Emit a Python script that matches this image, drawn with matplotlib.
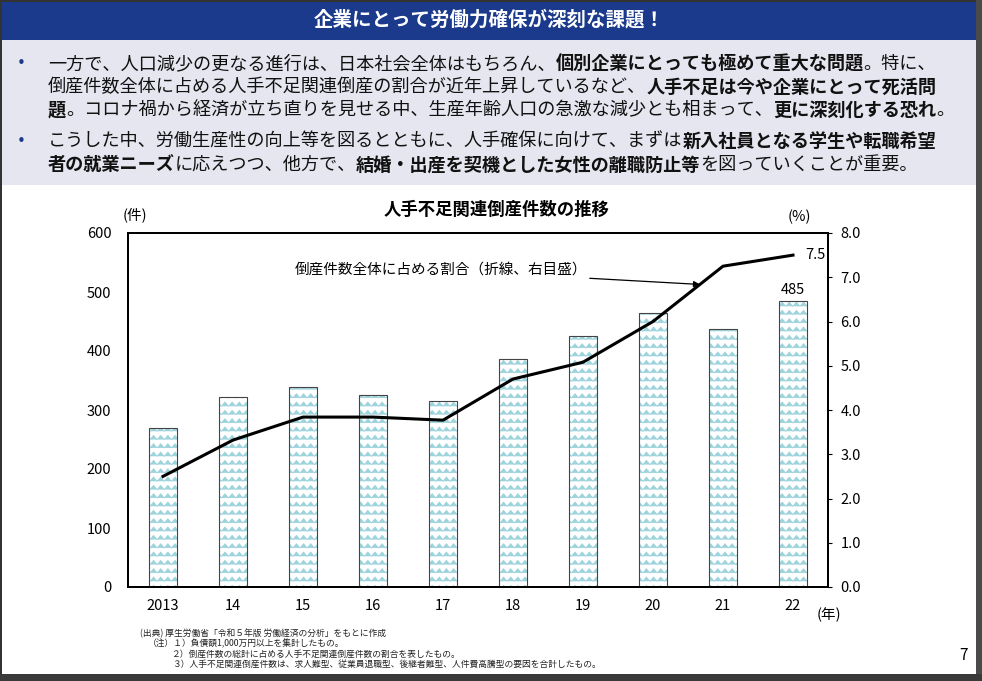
import warnings

import matplotlib
matplotlib.use('Agg')
import matplotlib.hatch as mhatch
import matplotlib.pyplot as plt
import numpy as np
from matplotlib.patches import Rectangle
from matplotlib.path import Path

warnings.filterwarnings('ignore')

plt.rcParams['font.family'] = ['Noto Sans CJK JP', 'DejaVu Sans']

# data
years = ['2013', '14', '15', '16', '17', '18', '19', '20', '21', '22']
bankruptcies = [270, 322, 339, 325, 315, 386, 425, 464, 437, 485]
share = [2.5, 3.32, 3.84, 3.84, 3.77, 4.7, 5.08, 6.0, 7.25, 7.5]
left_ticks = [0, 100, 200, 300, 400, 500, 600]
right_ticks = [0, 1, 2, 3, 4, 5, 6, 7, 8]

header = '企業にとって労働力確保が深刻な課題！'
bullet_lines = [
    [('一方で、人口減少の更なる進行は、日本社会全体はもちろん、', False),
     ('個別企業にとっても極めて重大な問題', True), ('。特に、', False)],
    [('倒産件数全体に占める人手不足関連倒産の割合が近年上昇しているなど、', False),
     ('人手不足は今や企業にとって死活問', True)],
    [('題', True),
     ('。コロナ禍から経済が立ち直りを見せる中、生産年齢人口の急激な減少とも相まって、', False),
     ('更に深刻化する恐れ', True), ('。', False)],
    [('こうした中、労働生産性の向上等を図るとともに、人手確保に向けて、まずは', False),
     ('新入社員となる学生や転職希望', True)],
    [('者の就業ニーズ', True), ('に応えつつ、他方で、', False),
     ('結婚・出産を契機とした女性の離職防止等', True),
     ('を図っていくことが重要。', False)],
]
chart_title = '人手不足関連倒産件数の推移'
line_label = '倒産件数全体に占める割合（折線、右目盛）'
notes = [
    '(出典) 厚生労働省「令和５年版 労働経済の分析」をもとに作成',
    '（注）１）負債額1,000万円以上を集計したもの。',
    '２）倒産件数の総計に占める人手不足関連倒産件数の割合を表したもの。',
    '３）人手不足関連倒産件数は、求人難型、従業員退職型、後継者難型、人件費高騰型の要因を合計したもの。',
]

W, H = 982, 681
NAVY = '#1b3a8c'
LAVENDER = '#e6e6f0'
HATCH_BLUE = '#9dd3dc'


class WaveHatch(mhatch.HatchPatternBase):
    """Zigzag rows, used with the 'w' hatch character."""
    periods = 14

    def __init__(self, hatch, density):
        self.num_lines = int(hatch.count('w') * density)
        self.num_vertices = self.num_lines * (2 * self.periods + 1)

    def set_vertices_and_codes(self, vertices, codes):
        n = 2 * self.periods + 1
        xs = np.linspace(0, 1, n)
        amp = 0.5 / max(self.num_lines, 1)
        offs = np.where(np.arange(n) % 2 == 0, 0.0, amp)
        rows = (np.arange(self.num_lines) + 0.25) / max(self.num_lines, 1)
        for i, r in enumerate(rows):
            sl = slice(i * n, (i + 1) * n)
            vertices[sl, 0] = xs
            vertices[sl, 1] = r + offs
            codes[sl] = Path.LINETO
            codes[i * n] = Path.MOVETO


mhatch._hatch_types.append(WaveHatch)
plt.rcParams['hatch.linewidth'] = 0.6


def fx(x):
    return x / W


def fy(y):
    return 1 - y / H


def add_rect(fig, x0, y0, x1, y1, color):
    fig.add_artist(Rectangle((fx(x0), fy(y1)), (x1 - x0) / W, (y1 - y0) / H,
                             transform=fig.transFigure, facecolor=color,
                             edgecolor='none', zorder=0))


def rich_line(fig, renderer, x, y, parts, size):
    for text, bold in parts:
        t = fig.text(fx(x), fy(y), text, fontsize=size,
                     fontweight='bold' if bold else 'normal',
                     color='#111111', ha='left', va='center')
        x = t.get_window_extent(renderer).x1


fig = plt.figure(figsize=(W / 100, H / 100), dpi=100)
renderer = fig.canvas.get_renderer()

# page frame and header
add_rect(fig, 0, 0, W, 2, '#333333')
add_rect(fig, 0, 0, 1.5, H, '#333333')
add_rect(fig, 976, 0, W, H, '#4a4a4a')
add_rect(fig, 0, 674, W, H, '#3a3a3a')
add_rect(fig, 1.5, 2, 976, 40, NAVY)
add_rect(fig, 1.5, 40, 976, 185, LAVENDER)
fig.text(fx(489), fy(20), header, fontsize=14, fontweight='bold',
         color='white', ha='center', va='center')

line_y = [64, 87, 110, 142, 165]
for y, parts in zip(line_y, bullet_lines):
    rich_line(fig, renderer, 48, y, parts, 13.1)
for y in (line_y[0], line_y[3]):
    fig.text(fx(21), fy(y), '•', fontsize=11, color=NAVY,
             ha='center', va='center', family='DejaVu Sans')

# chart
ax = fig.add_axes([fx(128), fy(587), 700 / W, 354 / H])
xpos = np.arange(len(years))
ax.bar(xpos, bankruptcies, width=0.4, color='white', edgecolor=HATCH_BLUE,
       linewidth=0, hatch='ww', zorder=2)
ax.bar(xpos, bankruptcies, width=0.4, fill=False, edgecolor='#444444',
       linewidth=0.8, zorder=3)
ax.set_xlim(-0.5, len(years) - 0.5)
ax.set_ylim(0, 600)
ax.set_yticks(left_ticks)
ax.set_xticks(xpos)
ax.set_xticklabels(years)
ax.tick_params(axis='y', length=0, pad=12, labelsize=10.5)
ax.tick_params(axis='x', length=0, pad=9, labelsize=10.5)
ax.annotate(str(bankruptcies[-1]), (xpos[-1], bankruptcies[-1]),
            xytext=(0, 3), textcoords='offset points', ha='center',
            va='bottom', fontsize=10.5)

ax2 = ax.twinx()
ax2.plot(xpos, share, color='black', linewidth=2.2, zorder=4)
ax2.set_ylim(0, 8)
ax2.set_yticks(right_ticks)
ax2.set_yticklabels([f'{v:.1f}' for v in right_ticks])
ax2.tick_params(axis='y', length=3, width=0.8, pad=6, labelsize=10.5)
ax2.annotate(f'{share[-1]:.1f}', (xpos[-1], share[-1]),
             xytext=(9, 0), textcoords='offset points', ha='left',
             va='center', fontsize=10.5)
arrow_x = 7.67
ax2.annotate(line_label, xy=(arrow_x, np.interp(arrow_x, xpos, share)),
             xytext=(587, H - 270), textcoords='figure pixels',
             ha='right', va='center', fontsize=10.5,
             arrowprops=dict(arrowstyle='-|>', color='black', lw=0.9,
                             mutation_scale=9, shrinkA=0, shrinkB=0))

for a in (ax, ax2):
    for s in a.spines.values():
        s.set_linewidth(1.4)
        s.set_color('black')

fig.text(fx(497), fy(210), chart_title, fontsize=12.5, fontweight='bold',
         ha='center', va='center')
fig.text(fx(135), fy(215), '(件)', fontsize=10.5, ha='center', va='center')
fig.text(fx(799), fy(217), '(%)', fontsize=10.5, ha='center', va='center')
fig.text(fx(829), fy(615), '(年)', fontsize=10.5, ha='center', va='center')

note_pos = [(140, 633), (148, 644), (172, 654), (172, 664)]
for (x, y), note in zip(note_pos, notes):
    fig.text(fx(x), fy(y), note, fontsize=6.3, ha='left', va='center',
             color='#222222')
fig.text(fx(963), fy(655), '7', fontsize=11, ha='center', va='center')

fig.savefig('out.png', dpi=100)
